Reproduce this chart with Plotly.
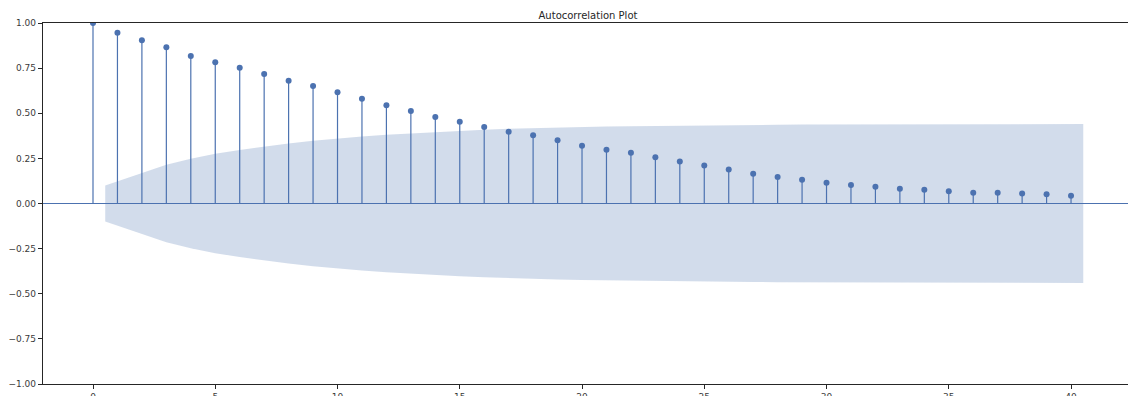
import plotly.graph_objects as go

# Autocorrelation values for lags 0..40
lags = list(range(41))
acf_values = [
    1.000, 0.946, 0.904, 0.865, 0.817, 0.782, 0.752, 0.717, 0.680, 0.651,
    0.616, 0.581, 0.544, 0.512, 0.479, 0.453, 0.424, 0.398, 0.378, 0.350,
    0.320, 0.298, 0.281, 0.256, 0.233, 0.210, 0.188, 0.165, 0.147, 0.131,
    0.115, 0.102, 0.093, 0.082, 0.076, 0.068, 0.060, 0.060, 0.056, 0.051,
    0.043,
]

# 95% confidence half-width for lags 1..40 (band drawn around zero)
conf_halfwidth = [
    0.100, 0.168, 0.214, 0.248, 0.275, 0.297, 0.316, 0.332, 0.347, 0.360,
    0.371, 0.381, 0.389, 0.397, 0.403, 0.409, 0.414, 0.418, 0.421, 0.424,
    0.426, 0.428, 0.430, 0.432, 0.433, 0.434, 0.435, 0.436, 0.437, 0.437,
    0.438, 0.438, 0.439, 0.439, 0.439, 0.440, 0.440, 0.440, 0.440, 0.440,
]

title_text = "Autocorrelation Plot"
x_tick_values = [0, 5, 10, 15, 20, 25, 30, 35, 40]
y_tick_values = [-1.0, -0.75, -0.5, -0.25, 0.0, 0.25, 0.5, 0.75, 1.0]

BLUE = "#4C72B0"
BAND = "rgba(76,114,176,0.25)"
INK = "#262626"
LABEL = "#3a3a3a"

# Band x positions: first and last lag pushed out by half a step
band_x = [float(v) for v in lags[1:]]
band_x[0] -= 0.5
band_x[-1] += 0.5
upper = conf_halfwidth
lower = [-v for v in conf_halfwidth]

fig = go.Figure()

fig.add_trace(go.Scatter(
    x=band_x + band_x[::-1],
    y=upper + lower[::-1],
    fill="toself",
    fillcolor=BAND,
    line=dict(width=0),
    mode="lines",
    hoverinfo="skip",
    showlegend=False,
))

# Stems
stem_x, stem_y = [], []
for lag, val in zip(lags, acf_values):
    stem_x += [lag, lag, None]
    stem_y += [0, val, None]
fig.add_trace(go.Scatter(
    x=stem_x, y=stem_y, mode="lines",
    line=dict(color=BLUE, width=1.2),
    hoverinfo="skip", showlegend=False,
))

# Markers
fig.add_trace(go.Scatter(
    x=lags, y=acf_values, mode="markers",
    marker=dict(color=BLUE, size=6),
    showlegend=False,
))

fig.update_layout(
    width=1128, height=396,
    margin=dict(l=43, r=0, t=23, b=12),
    paper_bgcolor="white", plot_bgcolor="white",
    font=dict(family="DejaVu Sans", color=LABEL, size=9),
    title=dict(text=title_text, x=0.5023, xref="paper", xanchor="center",
               y=1 - 15 / 396, yref="container", yanchor="middle",
               font=dict(size=10, color=INK, family="DejaVu Sans")),
    showlegend=False,
)

fig.update_xaxes(
    range=[-2.045, 42.33], automargin=False,
    tickmode="array", tickvals=x_tick_values,
    ticks="outside", ticklen=4, tickwidth=1, tickcolor=INK,
    showline=True, linecolor=INK, linewidth=1.25, mirror=True,
    showgrid=False, zeroline=False,
    tickfont=dict(size=9, color=LABEL),
)
# Zero reference line in the series colour
fig.update_yaxes(
    range=[-1, 1], automargin=False,
    tickmode="array", tickvals=y_tick_values, tickformat=".2f",
    ticks="outside", ticklen=4, tickwidth=1, tickcolor=INK,
    showline=True, linecolor=INK, linewidth=1.25, mirror=False,
    showgrid=False,
    zeroline=True, zerolinecolor=BLUE, zerolinewidth=1.2,
    tickfont=dict(size=9, color=LABEL),
)

fig.write_html("out.html")
